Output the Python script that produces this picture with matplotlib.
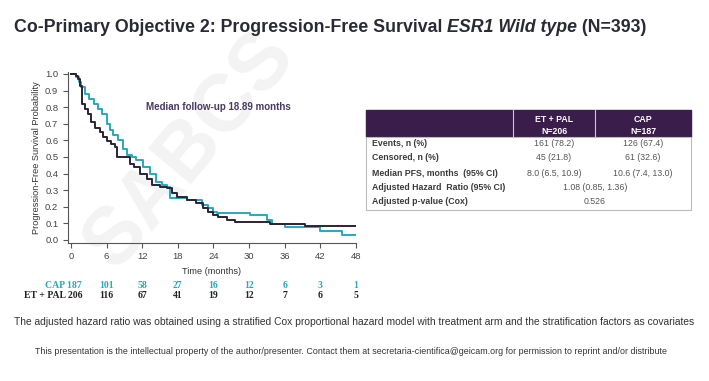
import matplotlib
matplotlib.use("Agg")
import matplotlib.pyplot as plt
from matplotlib.patches import Rectangle

# Kaplan-Meier step data
t_pal = [0, 0.8, 1.2, 1.6, 1.9, 2.3, 2.9, 3.4, 4.0, 4.9, 5.4, 6.0, 6.8, 7.4, 7.8, 9.2, 9.9, 10.6,
         11.6, 12.8, 13.6, 15.0, 16.1, 17.0, 17.8, 19.5, 21.0, 21.7, 22.3, 23.0, 24.0, 24.8, 26.2,
         27.6, 33.5, 39.4, 48]
s_pal = [1.0, 0.99, 0.97, 0.93, 0.82, 0.79, 0.76, 0.71, 0.675, 0.65, 0.62, 0.595, 0.58, 0.56, 0.50,
         0.50, 0.46, 0.44, 0.40, 0.37, 0.33, 0.32, 0.31, 0.28, 0.26, 0.24, 0.225, 0.22, 0.19, 0.17,
         0.15, 0.14, 0.12, 0.11, 0.096, 0.084, 0.084]
t_cap = [0, 0.8, 1.3, 1.7, 2.4, 3.0, 3.8, 4.5, 5.2, 6.0, 6.6, 7.1, 8.0, 8.8, 9.4, 10.2, 11.0, 12.2,
         13.3, 14.4, 15.3, 16.1, 16.7, 19.5, 22.0, 23.0, 23.9, 24.6, 30.1, 33.0, 33.8, 36.0, 41.9,
         45.6, 48]
s_cap = [1.0, 0.98, 0.95, 0.92, 0.88, 0.85, 0.82, 0.79, 0.76, 0.70, 0.66, 0.63, 0.60, 0.55, 0.51,
         0.50, 0.48, 0.44, 0.40, 0.35, 0.33, 0.32, 0.25, 0.24, 0.21, 0.19, 0.17, 0.165, 0.15, 0.12,
         0.096, 0.078, 0.056, 0.03, 0.03]

risk_times = [0, 6, 12, 18, 24, 30, 36, 42, 48]
risk_cap = [187, 101, 58, 27, 16, 12, 6, 3, 1]
risk_pal = [206, 116, 67, 41, 19, 12, 7, 6, 5]

col_heads = [["ET + PAL", "N=206"], ["CAP", "N=187"]]
row_labels = ["Events, n (%)", "Censored, n (%)", "Median PFS, months  (95% CI)",
              "Adjusted Hazard  Ratio (95% CI)", "Adjusted p-value (Cox)"]
row_pal = ["161 (78.2)", "45 (21.8)", "8.0 (6.5, 10.9)"]
row_cap = ["126 (67.4)", "61 (32.6)", "10.6 (7.4, 13.0)"]
row_both = ["1.08 (0.85, 1.36)", "0.526"]

DARK = "#2b2236"
CYAN = "#2ba6bd"
PURPLE = "#3a1d4b"

plt.rcParams["font.family"] = ["Liberation Sans", "DejaVu Sans"]
fig = plt.figure(figsize=(7.09, 3.81), dpi=100)

# overlay in pixel coordinates for slide text and table
ov = fig.add_axes([0, 0, 1, 1])
ov.set_xlim(0, 709)
ov.set_ylim(381, 0)
ov.axis("off")

ov.text(190, 150, "SABCS", fontsize=58, fontweight="bold", color="#f3f3f3", rotation=50,
        ha="center", va="center", zorder=0)

# title in three pieces
r = fig.canvas.get_renderer()
x = 14
for part, style in [("Co-Primary Objective 2: Progression-Free Survival ", "normal"),
                    ("ESR1 Wild type", "italic"), (" (N=393)", "normal")]:
    tt = ov.text(x, 27, part, fontsize=12.8, fontweight="bold", fontstyle=style,
                 color="#2a2a35", va="center", ha="left")
    bb = tt.get_window_extent(renderer=r)
    x += bb.width

ax = fig.add_axes([68 / 709, 1 - 242.6 / 381, 288 / 709, 170.6 / 381])
ax.step(t_cap, s_cap, where="post", color=CYAN, lw=1.4)
ax.step(t_pal, s_pal, where="post", color=DARK, lw=1.4)
ax.set_xlim(-0.5, 48)
ax.set_ylim(-0.016, 1.012)
ax.set_xticks(risk_times)
ax.set_yticks([i / 10 for i in range(11)])
ax.set_yticklabels([f"{i / 10:.1f}" for i in range(11)])
ax.tick_params(labelsize=6.8, labelcolor="#444", length=3.5, width=0.8, color="#555")
for s in ["top", "right"]:
    ax.spines[s].set_visible(False)
for s in ["left", "bottom"]:
    ax.spines[s].set_color("#555")
ax.patch.set_alpha(0)
ax.set_xlabel("Time (months)", fontsize=6.6, color="#333", labelpad=4)
ax.set_ylabel("Progression-Free Survival Probability", fontsize=6.6, color="#333", labelpad=3)
ax.text(0.27, 0.795, "Median follow-up 18.89 months", transform=ax.transAxes, fontsize=7,
        fontweight="bold", color="#4a3a62", va="center")

# numbers at risk
for i, (tm, c, p) in enumerate(zip(risk_times, risk_cap, risk_pal)):
    xp = ax.transData.transform((tm, 0))[0]
    xp = ov.transData.inverted().transform((xp, 0))[0]
    if i == 0:
        ov.text(82, 285, f"CAP {c}", fontsize=7, family="Liberation Serif", fontweight="bold",
                color=CYAN, ha="right", va="center")
        ov.text(82, 295, f"ET + PAL {p}", fontsize=7, family="Liberation Serif",
                fontweight="bold", color="#222", ha="right", va="center")
    else:
        ov.text(xp, 285, str(c), fontsize=7, family="Liberation Serif", fontweight="bold",
                color=CYAN, ha="center", va="center")
        ov.text(xp, 295, str(p), fontsize=7, family="Liberation Serif", fontweight="bold",
                color="#222", ha="center", va="center")

# table
tx0, tx1, tx2, tx3 = 366, 513, 595, 691
ty0, ty1, ty2 = 110, 137, 210
ov.add_patch(Rectangle((tx0, ty0), tx3 - tx0, ty1 - ty0, color=PURPLE, zorder=2))
ov.add_patch(Rectangle((tx0, ty1), tx3 - tx0, ty2 - ty1, facecolor="white", edgecolor="#bbb",
                       lw=0.8, zorder=2))
for xv in [tx1, tx2]:
    ov.plot([xv, xv], [ty0, ty1], color="#cfc6d6", lw=0.8, zorder=3)
for (h1, h2), xc in zip(col_heads, [(tx1 + tx2) / 2, (tx2 + tx3) / 2]):
    ov.text(xc, 119, h1, fontsize=6.3, fontweight="bold", color="white", ha="center", va="center", zorder=4)
    ov.text(xc, 131, h2, fontsize=6.3, fontweight="bold", color="white", ha="center", va="center", zorder=4)
row_y = [144, 158, 173, 187, 201]
for lab, yv in zip(row_labels, row_y):
    ov.text(372, yv, lab, fontsize=6.3, fontweight="bold", color="#3a3a3a", ha="left", va="center", zorder=4)
for a, b, yv in zip(row_pal, row_cap, row_y[:3]):
    ov.text((tx1 + tx2) / 2, yv, a, fontsize=6.3, color="#555", ha="center", va="center", zorder=4)
    ov.text((tx2 + tx3) / 2, yv, b, fontsize=6.3, color="#555", ha="center", va="center", zorder=4)
for v, yv in zip(row_both, row_y[3:]):
    ov.text(tx2, yv, v, fontsize=6.3, color="#555", ha="center", va="center", zorder=4)

ov.text(14, 322, "The adjusted hazard ratio was obtained using a stratified Cox proportional hazard model "
        "with treatment arm and the stratification factors as covariates", fontsize=7.4, color="#333",
        ha="left", va="center")
ov.text(35, 352, "This presentation is the intellectual property of the author/presenter. Contact them at "
        "secretaria-cientifica@geicam.org for permission to reprint and/or distribute", fontsize=6.4,
        color="#333", ha="left", va="center")

fig.savefig("out.png", dpi=100)
